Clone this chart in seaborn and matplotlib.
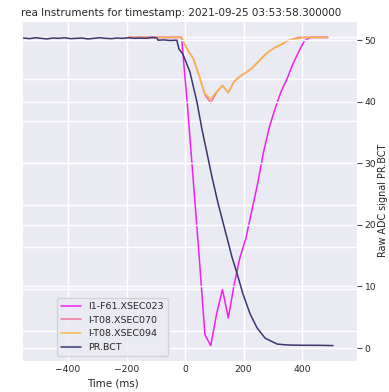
import numpy as np
import pandas as pd
import matplotlib
matplotlib.use("Agg")
import matplotlib.pyplot as plt
import seaborn as sns

# ---- data -------------------------------------------------------------
# loss monitors, sampled every 20 ms
loss_time = [-192, -172, -152, -132, -112, -92, -72, -52, -32, -12,
             8, 28, 48, 68, 88, 108, 128, 148, 168, 188,
             208, 228, 248, 268, 288, 308, 328, 348, 368, 388,
             408, 428, 448, 468, 488]
xsec023 = [7.0, 7.0, 7.0, 7.0, 7.0, 7.0, 7.0, 7.0, 7.0, 7.0,
           5.4, 3.6, 1.8, -0.1, -0.36, 0.4, 0.98, 0.3, 1.1, 1.75,
           2.2, 2.85, 3.5, 4.25, 4.85, 5.3, 5.7, 6.0, 6.35, 6.65,
           6.92, 7.0, 7.0, 7.0, 7.0]
xsec070 = [7.0, 7.0, 7.0, 7.0, 7.0, 7.0, 7.0, 7.0, 7.0, 7.0,
           6.71, 6.5, 6.09, 5.63, 5.44, 5.69, 5.85, 5.68, 5.95, 6.07,
           6.16, 6.26, 6.40, 6.55, 6.67, 6.76, 6.83, 6.91, 6.96, 7.0,
           7.0, 7.0, 7.0, 7.0, 7.0]
xsec094 = [7.0, 7.0, 7.0, 7.0, 7.0, 7.0, 7.0, 7.0, 7.0, 7.0,
           6.71, 6.5, 6.09, 5.66, 5.52, 5.71, 5.85, 5.68, 5.95, 6.07,
           6.16, 6.26, 6.40, 6.55, 6.67, 6.76, 6.83, 6.91, 6.95, 6.97,
           7.0, 7.0, 7.0, 7.0, 7.0]

# beam current transformer
bct_time = [-552, -532, -512, -492, -472, -452, -432, -412, -392, -372,
            -352, -332, -312, -292, -272, -252, -232, -212, -192, -172,
            -152, -132, -112, -96, -92, -72, -52, -28, -21, -7,
            17, 41, 58, 75, 92, 113, 137, 161, 178, 198,
            222, 246, 274, 315, 349, 400, 450, 506]
bct = [50.35, 50.25, 50.4, 50.3, 50.2, 50.35, 50.3, 50.4, 50.25, 50.3,
       50.35, 50.2, 50.3, 50.4, 50.3, 50.25, 50.35, 50.3, 50.4, 50.3,
       50.35, 50.3, 50.45, 50.35, 50.0, 50.05, 49.95, 50.0, 48.6, 47.7,
       44.8, 39.9, 35.5, 31.7, 27.8, 23.5, 19.1, 14.7, 12.1, 8.8,
       5.6, 3.3, 1.6, 0.65, 0.5, 0.45, 0.45, 0.4]

series_names = ["I1-F61.XSEC023", "I-T08.XSEC070", "I-T08.XSEC094", "PR.BCT"]
series_colors = ["#f21ff2", "#f2709a", "#f8b947", "#3b3570"]
title_text = "rea Instruments for timestamp: 2021-09-25 03:53:58.300000"

# ---- figure -----------------------------------------------------------
sns.set_theme(style="darkgrid")
plt.rcParams["font.family"] = ["DejaVu Sans"]

fig = plt.figure(figsize=(3.89, 3.92), dpi=100)
ax = fig.add_axes([23 / 389, 31 / 392, 334 / 389, 339 / 392])

loss_df = pd.DataFrame({"t": loss_time, series_names[0]: xsec023,
                        series_names[1]: xsec070, series_names[2]: xsec094})
for name, col in zip(series_names[:3], series_colors[:3]):
    sns.lineplot(data=loss_df, x="t", y=name, ax=ax, color=col, label=name,
                 linewidth=1.1, estimator=None, sort=False)

ax2 = ax.twinx()
bct_df = pd.DataFrame({"t": bct_time, "bct": bct})
sns.lineplot(data=bct_df, x="t", y="bct", ax=ax2, color=series_colors[3],
             label=series_names[3], linewidth=1.1, estimator=None, sort=False)

ax.set_xlim(-554, 588)
ax.set_xticks([-400, -200, 0, 200, 400])
ax.tick_params(axis="x", labelsize=6.6, pad=3, length=0, labelcolor=".15")
ax.tick_params(axis="y", labelleft=False, length=0)
ax.set_ylabel("")
ax.set_xlabel("Time (ms)", fontsize=7.4, color=".15")
ax.xaxis.set_label_coords(0.269, -0.052)

ax2.set_yticks([0, 10, 20, 30, 40, 50])
ax2.tick_params(axis="y", right=True, length=3.5, width=0.8, color=".3",
                pad=2, labelsize=6.6, labelcolor=".15")
ax2.set_ylabel("Raw ADC signal PR.BCT", fontsize=6.9, color=".15")
ax2.yaxis.set_label_coords(1.062, 0.475)
ax2.grid(True, color="white", linewidth=1.0)

for a in (ax, ax2):
    for s in a.spines.values():
        s.set_visible(False)

h1, l1 = ax.get_legend_handles_labels()
h2, l2 = ax2.get_legend_handles_labels()
if ax.get_legend() is not None:
    ax.get_legend().remove()
ax2.legend(h1 + h2, l1 + l2, loc="lower left", bbox_to_anchor=(0.102, 0.015),
           borderaxespad=0, fontsize=6.8, handlelength=2.1, labelspacing=0.5,
           frameon=True, facecolor="#eaeaf2", edgecolor="#cccccc", framealpha=0.8)

fig.text(21 / 389, 1 - 13.5 / 392, title_text, ha="left", va="center",
         fontsize=7.45, color=".15")

fig.savefig("out.png", dpi=100)
